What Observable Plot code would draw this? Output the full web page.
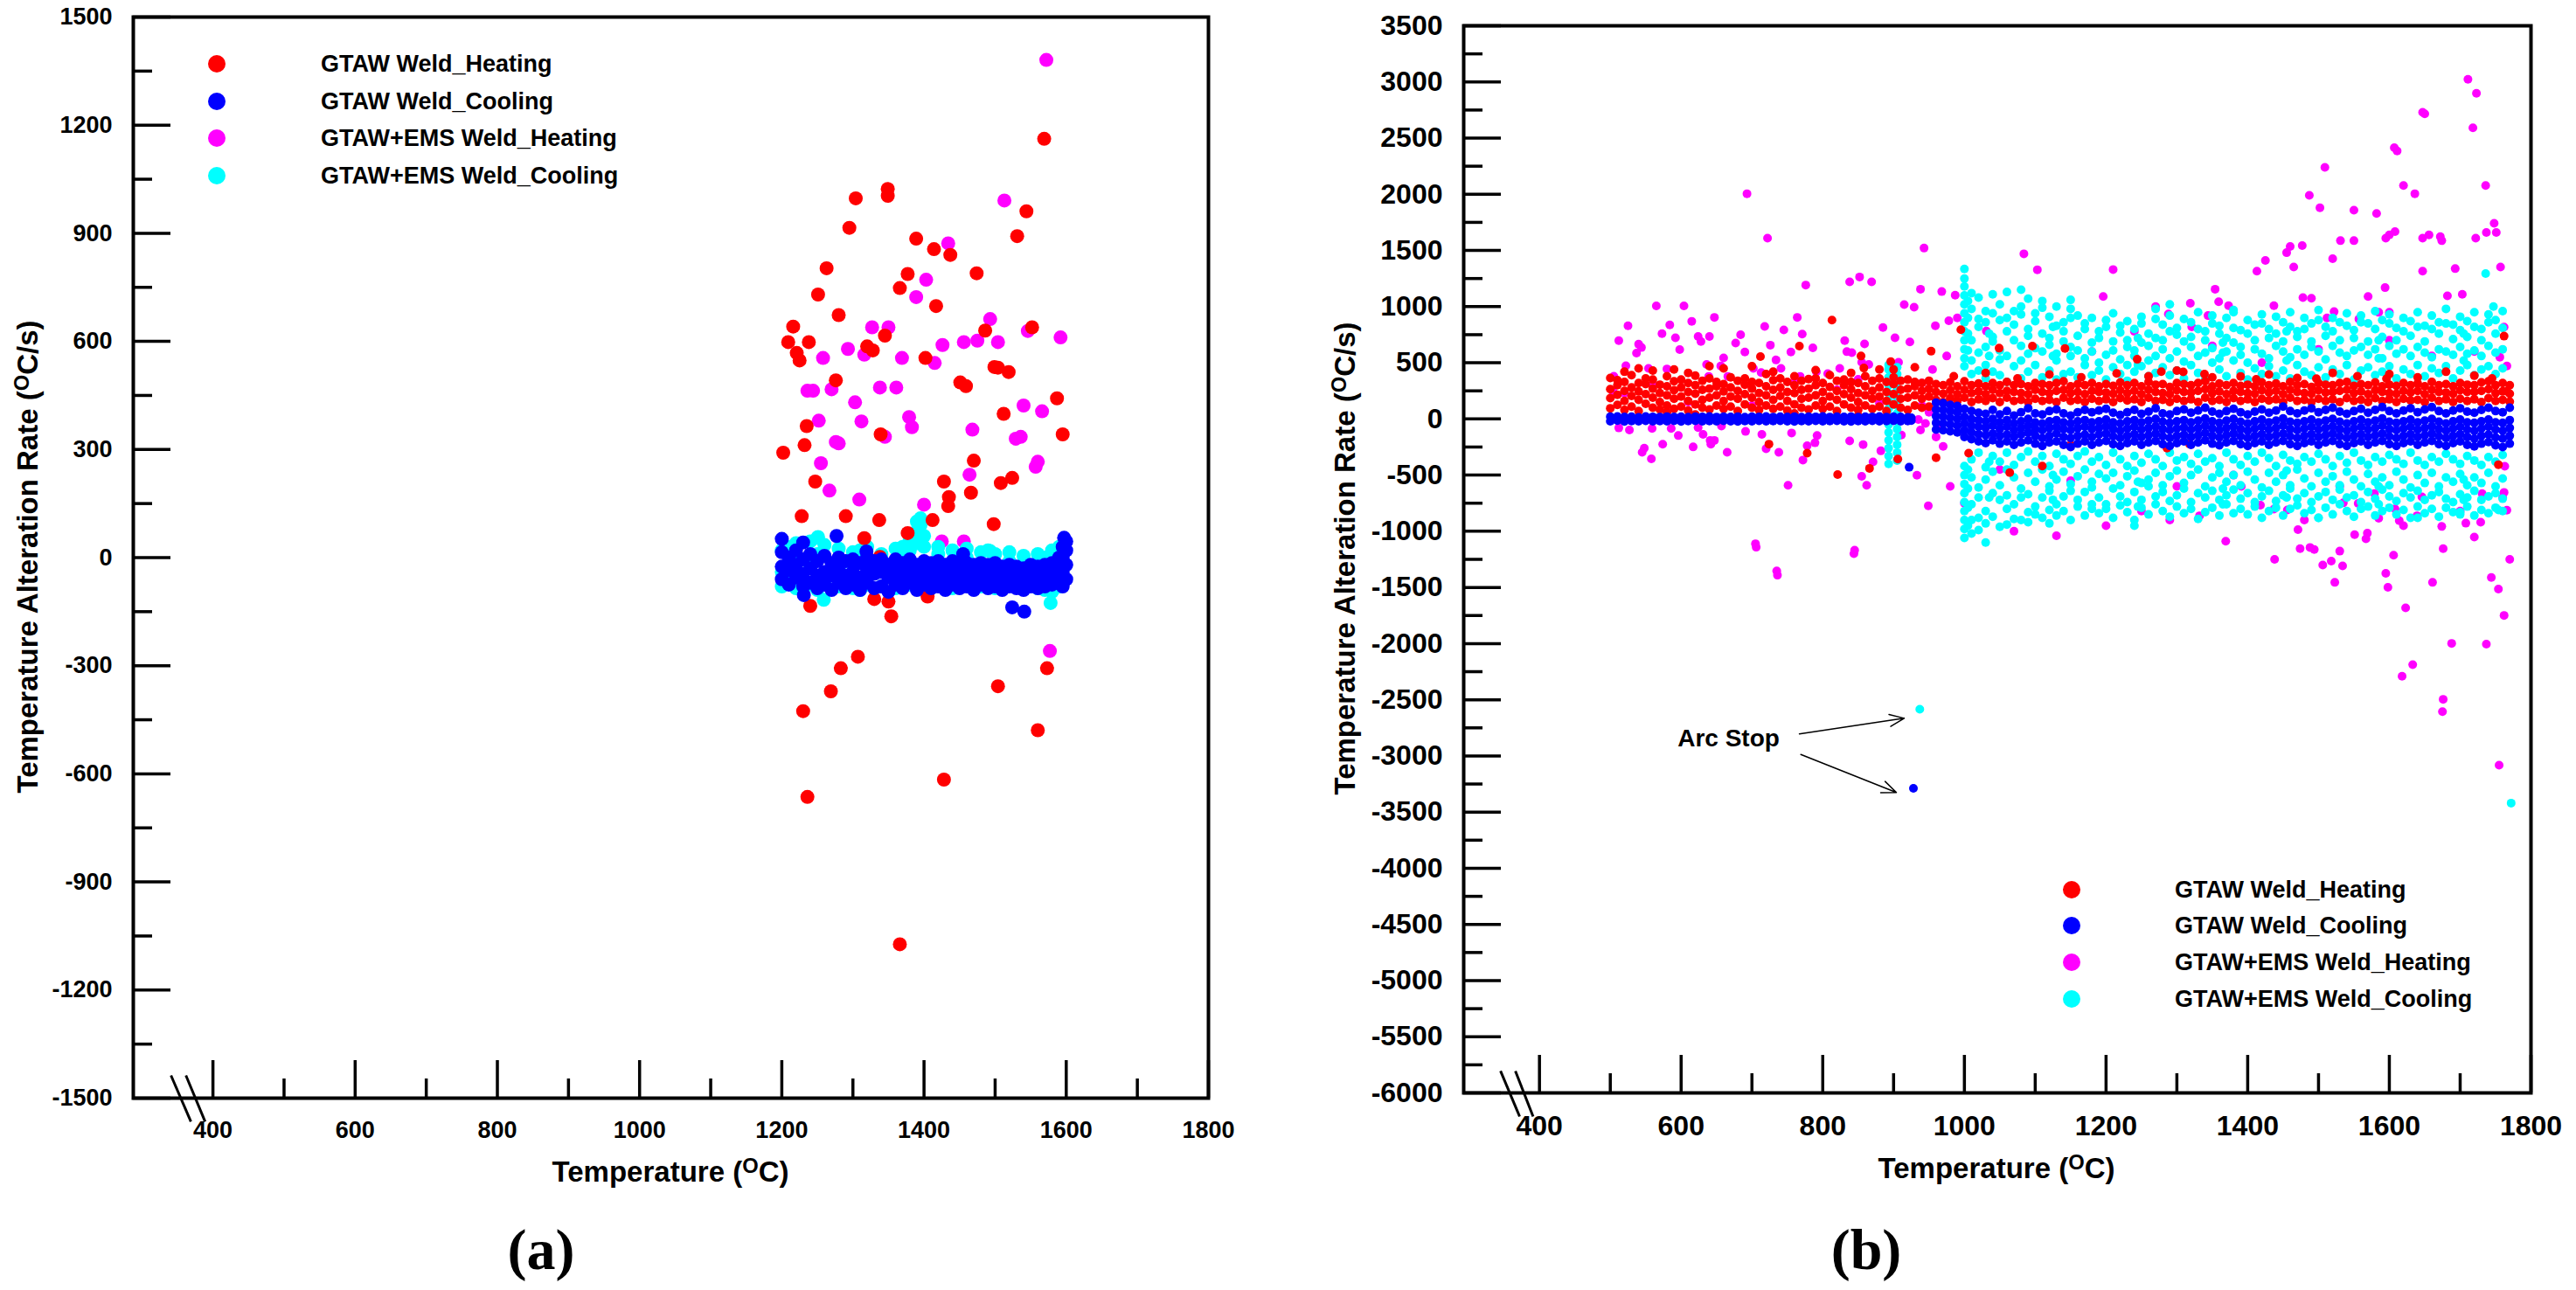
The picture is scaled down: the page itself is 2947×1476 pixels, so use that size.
<!DOCTYPE html>
<html><head><meta charset="utf-8">
<script src="https://cdn.jsdelivr.net/npm/d3@7"></script>
<script src="https://cdn.jsdelivr.net/npm/@observablehq/plot@0.6"></script>
<style>
html,body{margin:0;padding:0;background:#fff;}
#root{position:relative;width:2947px;height:1476px;background:#fff;font-family:"Liberation Sans",Arial,sans-serif;overflow:hidden}
.abs{position:absolute;white-space:nowrap;color:#000;font-weight:bold;line-height:1}
.ytitle{transform:translate(-50%,-50%) rotate(-90deg);font-size:33px}
.xtitle{transform:translate(-50%,-50%);font-size:33px}
.sup{font-size:0.72em;position:relative;top:-0.42em}
.plab{font-family:"Liberation Serif","Times New Roman",serif;font-size:66px;transform:translate(-50%,-50%)}
.leg{font-size:27px;transform:translateY(-50%)}
.key{position:absolute;width:20px;height:20px;border-radius:50%;transform:translate(-50%,-50%)}
</style></head>
<body><div id="root"></div>
<script>
// ---------- shared labels / ticks ----------
const seriesNames = ["GTAW Weld_Heating","GTAW Weld_Cooling","GTAW+EMS Weld_Heating","GTAW+EMS Weld_Cooling"];
const seriesColors = ["#ff0000","#0000ff","#ff00ff","#00ffff"];
const xMajorTicks = [400,600,800,1000,1200,1400,1600,1800];
const xMinorTicks = [500,700,900,1100,1300,1500,1700];
const yMajorA = [-1500,-1200,-900,-600,-300,0,300,600,900,1200,1500];
const yMinorA = [-1350,-1050,-750,-450,-150,150,450,750,1050,1350];
const yMajorB = [-6000,-5500,-5000,-4500,-4000,-3500,-3000,-2500,-2000,-1500,-1000,-500,0,500,1000,1500,2000,2500,3000,3500];
const yMinorB = [-5750,-5250,-4750,-4250,-3750,-3250,-2750,-2250,-1750,-1250,-750,-250,250,750,1250,1750,2250,2750,3250];
const xDomainA = [288,1800], yDomainA = [-1500,1500];
const xDomainB = [293,1800], yDomainB = [-6000,3500];
const breakA = [[341,369],[362,389]], breakAY = [-1437,-1565];
const breakB = [[345,372],[366,391]], breakBY = [-5805,-6210];

// ---------- panel (a) data ----------
const aHeating = [[1202,291],[1209,598],[1216,641],[1221,568],[1225,547],[1228,115],[1230,-426],[1232,312],[1235,365],[1236,-664],[1238,598],[1240,-134],[1247,211],[1251,730],[1263,803],[1269,-371],[1276,492],[1280,673],[1283,-307],[1290,115],[1295,915],[1304,997],[1307,-275],[1316,54],[1320,586],[1328,575],[1330,-115],[1337,104],[1338,2],[1339,342],[1345,616],[1349,1004],[1349,1023],[1350,-122],[1354,-163],[1366,748],[1366,-1073],[1377,787],[1377,68],[1389,885],[1402,554],[1405,-108],[1412,104],[1414,856],[1417,698],[1428,211],[1428,-616],[1434,143],[1435,168],[1437,840],[1451,486],[1459,476],[1466,180],[1470,269],[1474,789],[1486,630],[1498,93],[1499,529],[1504,527],[1504,-357],[1508,207],[1512,399],[1519,515],[1524,221],[1531,892],[1544,961],[1552,639],[1560,-479],[1569,1162],[1573,-307],[1587,442],[1595,342]];
const aEmsHeating = [[1572,1381],[1513,991],[1434,872],[1403,771],[1389,723],[1327,639],[1350,639],[1493,662],[1475,602],[1504,598],[1456,598],[1546,629],[1592,611],[1293,579],[1316,563],[1369,554],[1258,554],[1415,540],[1426,590],[1236,463],[1244,463],[1270,467],[1338,472],[1361,472],[1303,431],[1312,378],[1379,390],[1383,362],[1345,335],[1468,355],[1540,422],[1566,406],[1529,330],[1536,335],[1252,380],[1280,317],[1276,321],[1255,262],[1560,266],[1557,252],[1464,230],[1267,186],[1309,161],[1400,147],[1425,45],[1456,45],[1577,-259]];
const aCoolingCols = [[1200,-60,-25,15],[1210,-75,-35,0],[1220,-55,-20,20],[1230,-80,-45,-5],[1240,-70,-30,10],[1250,-85,-50,-10],[1260,-75,-40,5],[1270,-90,-50,-15],[1280,-70,-35,0],[1290,-85,-50,-10],[1300,-75,-40,-5],[1310,-90,-55,-15],[1320,-70,-35,0],[1330,-85,-45,-10],[1340,-80,-40,-5],[1350,-95,-55,-20],[1360,-75,-40,-5],[1370,-85,-50,-15],[1380,-70,-35,-5],[1390,-90,-55,-20],[1400,-75,-40,-10],[1410,-85,-50,-15],[1420,-80,-45,-10],[1430,-90,-55,-20],[1440,-75,-40,-10],[1450,-85,-50,-15],[1460,-80,-45,-15],[1470,-90,-55,-20],[1480,-75,-45,-15],[1490,-85,-50,-20],[1500,-80,-45,-15],[1510,-90,-55,-25],[1520,-80,-50,-20],[1530,-85,-55,-25],[1540,-90,-60,-30],[1550,-80,-50,-20],[1560,-85,-55,-25],[1570,-80,-50,-20],[1580,-75,-45,-15],[1590,-70,-35,0],[1595,-80,-40,0,30],[1600,-60,-20,20,45]];
const aCoolingOut = [[1200,52],[1230,42],[1231,-104],[1277,60],[1319,17],[1455,10],[1524,-138],[1541,-150],[1597,55]];
const aEmsCoolingCols = [[1200,-80,-40,20],[1210,-60,30],[1220,-85,0,40],[1240,-75,-20,45],[1250,-90,10,55],[1260,-70,35],[1280,-80,-30,25],[1300,-85,-20,15],[1310,-90,20],[1320,-75,-10,30],[1340,-80,-30,10],[1360,-85,-20,25],[1370,0,30],[1380,-75,20,50],[1390,40,75,100],[1395,60,90],[1400,-80,30,60],[1420,-70,10,30],[1440,-85,-20,20],[1460,-75,0,25],[1480,-80,-30,15],[1490,20],[1500,-85,-20,10],[1520,-75,-10,15],[1540,-80,-30,5],[1560,-85,-20,10],[1570,-90,0],[1580,-95,-40,20],[1590,-80,0,30]];
const aEmsCoolingOut = [[1259,-117],[1578,-126],[1395,109],[1493,18],[1251,57]];

// ---------- panel (b) data ----------
const bHeatingCols = [[500,95,185,265,365],[510,125,215,300,345],[520,80,160,250,330],[530,110,205,280,390],[540,70,170,245,320],[550,135,220,310,360],[560,100,190,270,350],[570,85,150,230,305],[580,120,210,290,380],[590,90,180,255,335],[600,110,200,280,350],[610,75,160,240,320],[620,130,225,300,385],[630,100,170,260,340],[640,85,190,270,360],[650,120,210,290,330],[660,90,160,245,310],[670,110,200,280,370],[680,70,180,250,340],[690,130,220,305,360],[700,100,190,270,330],[710,80,150,230,320],[720,120,210,290,400],[730,90,170,260,345],[740,110,205,280,360],[750,75,160,240,330],[760,130,230,300,380],[770,100,180,260,340],[780,85,190,270,355],[790,120,210,300,360],[800,90,160,240,320],[810,110,200,285,390],[820,70,170,250,340],[830,130,220,300,350],[840,100,190,265,330],[850,80,150,230,320],[860,120,210,290,380],[870,90,180,250,340],[880,110,200,280,360],[890,70,160,240,330],[900,130,220,310,370],[910,100,180,260,340],[920,80,190,270,350],[930,120,210,290,330],[940,100,180,250,320],[950,110,200,270,340],
[960,170,240,310],[970,150,225,300],[980,185,255,325],[990,160,220,290],[1000,190,260,335],[1010,150,230,300],[1020,175,245,315],[1030,160,220,290],[1040,185,260,320],[1050,150,230,300],[1060,190,250,330],[1070,160,240,300],[1080,170,230,310],[1090,150,220,290],[1100,180,260,320],[1110,160,240,310],[1120,170,230,300],[1130,150,250,320],[1140,190,260,335],[1150,160,230,290],[1160,170,240,310],[1170,150,220,300],[1180,180,250,320],[1190,160,240,290],[1200,175,235,310],[1210,150,225,295],[1220,185,255,325],[1230,165,230,300],[1240,175,250,320],[1250,150,220,290],[1260,190,260,330],[1270,160,240,305],[1280,170,230,310],[1290,150,220,285],[1300,180,255,320],[1310,160,240,310],[1320,175,235,300],[1330,150,250,320],[1340,190,265,335],[1350,160,230,290],[1360,170,245,315],[1370,150,220,300],[1380,185,250,320],[1390,160,240,295],[1400,175,230,305],[1410,150,225,290],[1420,180,255,325],[1430,165,235,300],[1440,175,250,315],[1450,150,220,290],[1460,190,260,330],[1470,160,240,300],[1480,170,230,310],[1490,150,225,285],[1500,180,255,320],[1510,160,235,305],[1520,175,240,300],[1530,150,250,320],[1540,185,260,330],[1550,160,230,295],[1560,170,245,310],[1570,150,220,300],[1580,185,255,325],[1590,160,240,290],[1600,175,230,305],[1610,150,225,295],[1620,180,250,320],[1630,165,235,300],[1640,170,250,315],[1650,150,220,290],[1660,190,260,330],[1670,160,240,300],[1680,175,235,310],[1690,150,225,290],[1700,180,255,320],[1710,160,240,305],[1720,175,240,300],[1730,150,250,325],[1740,185,265,335],[1750,160,230,300],[1760,170,245,320],[1770,155,225,300]];
const bHeatingOut = [[813,880],[712,555],[724,-224],[778,-305],[821,-495],[866,-440],[854,560],[906,-357],[995,795],[1006,-305],[1064,-478],[1110,-420],[1150,-231],[1142,627],[1049,630],[1096,649],[1244,531],[1286,-260],[1318,-224],[1278,421],[1339,399],[1754,-407],[1762,737],[953,603],[767,649],[896,511],[960,-345],[858,453],[1309,419],[1390,379],[1412,353],[1497,358],[1596,358],[1766,247],[640,470],[590,440],[540,450],[700,470],[880,440],[930,460],
[985,380],[1030,410],[1075,360],[1120,395],[1165,370],[1215,405],[1260,380],[1300,430],[1350,370],[1430,395],[1470,365],[1520,410],[1555,380],[1600,400],[1640,370],[1680,420],[1720,385],[1745,360],[520,420],[560,430],[610,410],[660,450],[730,420],[790,435],[840,410],[900,440],[620,40],[760,50],[850,30],[580,60]];
const bCoolingLine = [[500,-20,20],[510,-15,22],[520,-22,18],[530,-18,20],[540,-20,15],[550,-16,22],[560,-21,19],[570,-18,17],[580,-20,21],[590,-17,18],[600,-22,20],[610,-19,16],[620,-16,21],[630,-20,19],[640,-18,22],[650,-21,17],[660,-17,20],[670,-20,18],[680,-22,21],[690,-18,16],[700,-20,20],[710,-16,19],[720,-21,22],[730,-19,17],[740,-17,20],[750,-20,18],[760,-22,21],[770,-18,16],[780,-20,20],[790,-16,19],[800,-21,22],[810,-19,17],[820,-17,20],[830,-20,18],[840,-22,21],[850,-18,16],[860,-20,20],[870,-16,19],[880,-21,22],[890,-19,17],[900,-17,20],[910,-20,18],[920,-18,15],[925,-15,10]];
const bCoolingBand = [[960,-95,-35,25,85,145],[970,-100,-40,20,80,140],[980,-110,-50,10,70,125],[990,-120,-60,0,60,115],[1000,-160,-100,-40,20,90],[1010,-180,-120,-60,0,70],[1020,-200,-135,-70,-10,55],[1030,-215,-145,-80,-20,45],[1040,-190,-130,-60,0,80],[1050,-220,-150,-90,-30,40],[1060,-200,-140,-70,-10,70],[1070,-230,-160,-100,-40,30],[1080,-210,-140,-80,-20,60],[1090,-190,-120,-60,0,95],[1100,-220,-150,-90,-30,50],[1110,-240,-170,-100,-40,40],[1120,-210,-150,-80,-20,70],[1130,-200,-130,-70,-10,85],[1140,-230,-160,-90,-30,50],[1150,-250,-170,-100,-40,30],[1160,-220,-150,-80,-20,60],[1170,-200,-140,-70,-10,80],[1180,-230,-160,-90,-30,60],[1190,-210,-140,-80,-20,75],[1200,-195,-130,-65,-5,90],[1210,-225,-155,-90,-30,55],[1220,-240,-170,-105,-40,35],[1230,-215,-150,-85,-20,60],[1240,-200,-135,-70,-10,80],[1250,-230,-160,-95,-30,45],[1260,-210,-145,-80,-15,65],[1270,-195,-130,-65,0,95],[1280,-225,-155,-90,-25,50],[1290,-240,-170,-100,-35,40],[1300,-215,-150,-85,-20,70],[1310,-200,-140,-75,-10,85],[1320,-230,-160,-95,-30,55],[1330,-210,-145,-80,-15,75],[1340,-190,-125,-60,5,100],[1350,-220,-150,-85,-20,65],[1360,-235,-165,-100,-35,45],[1370,-210,-145,-80,-15,70],[1380,-195,-130,-65,0,90],[1390,-225,-155,-90,-25,60],[1400,-240,-170,-105,-40,40],[1410,-215,-150,-85,-20,65],[1420,-200,-135,-70,-5,85],[1430,-230,-160,-95,-30,55],[1440,-210,-145,-80,-15,75],[1450,-195,-130,-60,5,110],[1460,-225,-155,-90,-25,70],[1470,-240,-170,-100,-35,50],[1480,-215,-150,-85,-20,75],[1490,-200,-135,-70,-5,95],[1500,-230,-160,-95,-30,60],[1510,-210,-145,-80,-15,80],[1520,-195,-130,-65,0,100],[1530,-225,-155,-90,-25,65],[1540,-240,-170,-105,-40,45],[1550,-215,-150,-85,-20,70],[1560,-200,-135,-70,-5,90],[1570,-230,-160,-95,-30,55],[1580,-210,-145,-80,-15,80],[1590,-195,-130,-60,5,105],[1600,-225,-155,-90,-25,70],[1610,-240,-170,-100,-35,50],[1620,-215,-150,-85,-20,75],[1630,-200,-135,-70,-5,95],[1640,-230,-160,-95,-30,60],[1650,-210,-145,-80,-15,85],[1660,-195,-130,-65,0,105],[1670,-225,-155,-90,-25,70],[1680,-240,-170,-105,-40,50],[1690,-215,-150,-85,-20,75],[1700,-200,-135,-70,-5,95],[1710,-230,-160,-95,-30,65],[1720,-245,-175,-105,-35,55],[1730,-220,-150,-85,-20,80],[1740,-205,-140,-70,-5,100],[1750,-235,-165,-95,-30,70],[1760,-250,-175,-105,-35,60],[1770,-220,-150,-80,-10,100]];
const bCoolingOut = [[922,-430],[928,-3288]];
const bEmsCoolingCols = [[893,-400,-330,-260,-190,-120,-50,20,90,160,230,300,370,440,480],[905,-370,-300,-230,-160,-90,-20,50,120,190,260,330,400,460],
[1000,1335,1250,1180,1100,1020,940,860,780,700,620,540,470,-420,-500,-580,-660,-740,-820,-900,-980,-1060],[1005,1050,900,760,610,-450,-620,-790,-950],[1010,1120,980,700,520,400,-360,-520,-760,-900,-1020],[1020,1080,890,820,590,430,-300,-610,-700,-880,-990],[1030,960,860,640,480,360,-430,-540,-820,-930,-1100],[1035,760,560,-380,-700],[1040,1110,940,730,690,420,-330,-470,-660,-870],[1050,1020,880,610,530,390,-380,-590,-720,-960],[1060,1130,900,780,560,330,-300,-450,-680,-800,-940],[1070,960,840,700,470,-410,-520,-760,-890],[1080,1000,930,650,520,360,-340,-620,-700,-900],[1090,1070,800,740,580,420,-290,-480,-670,-830,-920],[1100,940,870,630,480,-380,-560,-780,-850],[1110,1050,990,760,600,370,-330,-450,-700,-880],[1120,910,720,660,430,-420,-600,-640,-810,-930],[1125,820,560,-500,-720],[1130,1000,830,580,520,350,-310,-540,-760,-860],[1140,860,780,690,400,-360,-470,-690,-820],[1150,980,900,640,560,420,-400,-580,-640,-900],[1160,920,740,610,370,-330,-510,-720,-780],[1170,850,800,540,480,-290,-450,-650,-860],[1180,900,680,600,390,-380,-560,-610,-800,-760],[1190,780,720,500,430,-340,-490,-700,-840],[1200,880,820,570,350,-410,-530,-760,-800],[1210,940,690,610,460,-300,-480,-620,-880],[1220,830,770,530,400,-360,-590,-690,-770],[1230,870,700,640,480,340,-420,-510,-740,-830],[1240,800,610,560,420,-330,-460,-650,-900],[1245,720,480,-560,-780],[1250,910,850,680,470,-390,-570,-720,-790],[1260,760,650,520,380,-310,-540,-600,-850],[1270,980,890,720,560,410,-360,-480,-690,-760],[1280,840,700,620,460,-420,-590,-650,-820],[1290,920,780,540,390,-300,-510,-730,-870],[1300,810,750,600,430,-370,-460,-680,-780],[1310,890,690,510,360,-340,-570,-620,-840],[1320,860,730,640,480,-400,-500,-740,-800],[1330,950,800,560,410,-310,-450,-660,-890],[1340,780,700,590,350,-380,-600,-700,-830],[1350,920,850,630,500,-350,-520,-640,-790],[1360,830,760,540,440,-420,-480,-720,-860],[1365,680,590,-620,-760],[1370,900,720,600,380,-300,-560,-680,-760],[1380,970,810,680,520,-360,-500,-630,-840],[1390,790,640,570,410,-410,-590,-710,-800],[1400,880,760,500,350,-330,-470,-660,-850],[1410,840,700,620,450,-380,-540,-740,-780],[1420,930,850,580,400,-300,-610,-690,-880],[1430,800,720,540,470,-350,-480,-640,-820],[1440,910,760,650,380,-420,-560,-730,-790],[1450,860,690,600,430,-320,-500,-680,-860],[1455,780,520,-460,-700],[1460,950,820,550,360,-370,-590,-620,-800],[1470,780,730,620,480,-400,-450,-710,-770],[1480,900,800,570,420,-340,-530,-660,-840],[1490,850,690,640,390,-380,-600,-740,-810],[1500,970,880,600,460,-310,-480,-690,-880],[1510,820,740,530,370,-360,-560,-650,-790],[1520,900,780,650,440,-420,-510,-720,-850],[1530,860,700,590,400,-330,-590,-630,-760],[1540,940,830,560,480,-390,-470,-700,-820],[1550,790,720,610,350,-300,-540,-680,-870],[1560,920,860,640,430,-370,-600,-740,-800],[1570,850,690,570,460,-410,-490,-650,-780],[1580,960,800,620,390,-340,-560,-710,-860],[1585,700,540,-600,-760],[1590,880,730,540,420,-380,-520,-630,-820],[1600,930,850,650,470,-320,-590,-690,-790],[1610,810,700,580,360,-360,-470,-730,-850],[1620,900,780,620,440,-400,-540,-660,-810],[1630,870,740,560,400,-300,-610,-700,-880],[1640,950,820,640,480,-370,-500,-640,-780],[1650,830,690,590,380,-410,-570,-720,-840],[1660,920,800,550,450,-340,-480,-680,-800],[1670,860,760,620,410,-380,-600,-650,-870],[1680,980,850,600,470,-310,-520,-710,-790],[1690,840,710,570,360,-360,-560,-740,-830],[1700,910,790,640,430,-400,-490,-670,-850],[1705,760,520,-540,-720],[1710,870,730,580,480,-330,-590,-700,-780],[1720,950,820,610,390,-370,-520,-640,-860],[1730,800,700,560,440,-410,-570,-720,-810],[1740,930,860,650,470,-340,-480,-690,-840],[1750,880,760,590,400,-380,-600,-660,-790],[1760,960,810,620,450,-320,-530,-710,-820]];
const bEmsCoolingOut = [[937,-2584],[1736,1294],[1747,1000],[1754,-810],[1772,-3420],[1080,1150],[1150,1060],[1290,1020],[1380,950],[1240,-950],[1500,-880],[1640,-880],[1700,-830]];
const bEmsHeating = [[693,2005],[722,1609],[943,1521],[852,1264],[838,1220],[869,1220],[776,1192],[938,1155],[968,1134],[987,1102],[1084,1470],[1103,1328],[1210,1330],[1196,1090],[1354,1155],[1413,1316],[1425,1411],[1455,1480],[1460,1536],[1477,1543],[1465,1352],[1478,1080],[1487,1990],[1502,1880],[1509,2239],[1520,1426],[1531,1587],[1550,1587],[1550,1858],[1582,1829],[1595,1609],[1600,1638],[1607,2415],[1611,2386],[1620,2078],[1636,2005],[1608,1667],[1647,1609],[1647,1316],[1656,1638],[1672,1623],[1674,1587],[1693,1338],[1682,1096],[1703,1110],[1711,3024],[1723,2899],[1718,2591],[1722,1609],[1736,2078],[1737,1660],[1748,1741],[1751,1660],[1757,1352],[1647,2730],[1650,2716],[1594,1169],[1570,1090],[1344,920],[1359,1044],[1373,1008],[1319,1030],[1288,935],[1321,820],[1490,1074],[1600,949],[1585,949],[1557,890],[1522,955],[1512,900],[1437,1008],[1762,817],[1766,472],
[705,-1111],[735,-1353],[845,-1169],[1369,-1089],[1332,-862],[1471,-986],[1474,-1155],[1488,-1144],[1438,-1250],[1494,-1162],[1506,-1301],[1518,-1265],[1523,-1455],[1534,-1309],[1530,-1177],[1567,-1067],[1569,-1016],[1595,-1375],[1598,-1499],[1618,-2291],[1633,-2188],[1623,-1682],[1606,-1213],[1661,-1455],[1676,-2496],[1675,-2606],[1688,-1998],[1676,-1155],[1720,-1052],[1737,-2005],[1744,-1411],[1754,-1514],[1762,-1749],[1770,-1250],[1755,-3083],[1418,-767],[1437,-803],[1456,-811],[1556,-752],[1579,-664],[1585,-884],[1639,-862],[1614,-906],[1674,-957],[1708,-928],[1729,-919],[1731,-664],[1763,-422],[1762,-654],[1766,-813],[1646,-693],[1551,-1030],[1608,-800],[1535,-747],[1391,-601],
[565,1007],[604,1007],[915,1018],[929,994],[647,904],[764,904],[525,829],[584,837],[615,869],[718,824],[745,792],[771,755],[885,814],[959,829],[978,874],[573,760],[592,723],[624,734],[640,734],[628,689],[512,697],[540,665],[544,636],[598,617],[537,586],[684,750],[677,676],[726,657],[786,633],[831,697],[859,668],[902,723],[923,686],[690,596],[755,596],[834,599],[841,590],[636,485],[660,543],[522,474],[554,450],[580,445],[656,472],[734,525],[741,450],[702,450],[713,413],[791,419],[807,403],[824,450],[865,485],[855,504],[907,504],[666,379],[639,379],[768,379],[850,352],[504,241],
[657,-64],[691,-111],[714,-138],[512,-80],[527,-98],[559,-85],[586,-85],[596,-148],[624,-77],[631,-138],[641,-191],[647,-191],[756,-125],[792,-148],[938,-98],[548,-260],[545,-297],[558,-355],[574,-225],[617,-249],[642,-225],[665,-297],[720,-265],[738,-297],[778,-239],[789,-212],[772,-366],[838,-196],[857,-228],[882,-284],[871,-382],[855,-511],[862,-591],[751,-591],[933,-501],[949,-774],[970,-244],[911,-143],[706,-1142],[844,-1200],[736,-1391],
[505,380],[520,230],[560,300],[610,150],[700,120],[760,330],[820,260],[880,140],[940,320],[940,120],[935,-5],[945,-40],[950,60],[963,-80],[955,440],[960,-160],
[975,560],[990,900],[1031,782],[1240,780],[1180,600],[1350,650],[1420,500],[1500,620],[1600,700],[1660,560],[1720,600],[1756,550],[980,-600],[1000,-750],[1200,-950],[1290,-900],[1250,-820],[1480,-900],[1620,-950],[1700,-820],[1760,-700],[1530,-600],[1380,-500],[1300,-600],[1150,-550],[1050,-450],[1070,-1000],[1130,-1040],[1270,1000]];
const arcLabel = [{x:667, y:-2848, text:"Arc Stop"}];
const arcArrows = [{x1:767, y1:-2804, x2:915, y2:-2665},{x1:769, y1:-2987, x2:904, y2:-3325}];

// ---------- helpers ----------
const cols = rows => rows.flatMap(([x, ...ys]) => ys.map(y => [x, y]));

function panel(o) {
  const marks = [];
  o.series.forEach(s => marks.push(Plot.dot(s.data, {x: d => d[0], y: d => d[1], r: o.r, fill: s.color})));
  marks.push(Plot.frame({stroke: "#000", strokeWidth: 4}));
  marks.push(Plot.axisY(o.yMinor, {tickSize: -22, fill: "none", strokeWidth: 3.5, label: null}));
  marks.push(Plot.axisY(o.yMajor, {tickSize: -43, fill: "none", strokeWidth: 3.5, label: null}));
  marks.push(Plot.axisY(o.yMajor, {tickSize: 0, tickPadding: 24, fontSize: o.fs, fontWeight: "bold", tickFormat: d => String(d), label: null}));
  marks.push(Plot.axisX(xMinorTicks, {tickSize: -22, fill: "none", strokeWidth: 3.5, label: null}));
  marks.push(Plot.axisX(xMajorTicks, {tickSize: -43, fill: "none", strokeWidth: 3.5, label: null}));
  marks.push(Plot.axisX(xMajorTicks, {tickSize: 0, tickPadding: 26, fontSize: o.fs, fontWeight: "bold", tickFormat: d => String(d), label: null}));
  marks.push(Plot.link(o.breaks, {x1: d => d[0], x2: d => d[1], y1: o.breakY[0], y2: o.breakY[1], stroke: "#000", strokeWidth: 3}));
  if (o.extra) marks.push(...o.extra);
  return Plot.plot({
    width: o.width, height: 1476,
    marginLeft: o.ml, marginRight: o.mr, marginTop: o.mt, marginBottom: 1476 - o.fb,
    x: {domain: o.xDomain}, y: {domain: o.yDomain},
    style: {fontFamily: '"Liberation Sans", Arial, sans-serif', background: "transparent", color: "#000", overflow: "visible"},
    marks
  });
}

const chartA = panel({
  width: 1474, ml: 152, mr: 92, mt: 19, fb: 1256, r: 8, fs: 27,
  xDomain: xDomainA, yDomain: yDomainA, yMajor: yMajorA, yMinor: yMinorA,
  breaks: breakA, breakY: breakAY,
  series: [
    {data: aEmsHeating, color: seriesColors[2]},
    {data: [...cols(aEmsCoolingCols), ...aEmsCoolingOut], color: seriesColors[3]},
    {data: aHeating, color: seriesColors[0]},
    {data: [...cols(aCoolingCols), ...aCoolingOut], color: seriesColors[1]}
  ]
});
const chartB = panel({
  width: 1473, ml: 200, mr: 52, mt: 29, fb: 1250, r: 5, fs: 32,
  xDomain: xDomainB, yDomain: yDomainB, yMajor: yMajorB, yMinor: yMinorB,
  breaks: breakB, breakY: breakBY,
  series: [
    {data: bEmsHeating, color: seriesColors[2]},
    {data: [...cols(bEmsCoolingCols), ...bEmsCoolingOut], color: seriesColors[3]},
    {data: [...cols(bHeatingCols), ...bHeatingOut], color: seriesColors[0]},
    {data: [...cols(bCoolingLine), ...cols(bCoolingBand), ...bCoolingOut], color: seriesColors[1]}
  ],
  extra: [
    Plot.arrow(arcArrows, {x1: "x1", y1: "y1", x2: "x2", y2: "y2", stroke: "#000", strokeWidth: 1.5, headLength: 18, headAngle: 45}),
    Plot.text(arcLabel, {x: "x", y: "y", text: "text", fontSize: 28, fontWeight: "bold", fill: "#000"})
  ]
});

const root = document.getElementById("root");
function place(node, left) {
  const d = document.createElement("div");
  d.style.cssText = `position:absolute;left:${left}px;top:0`;
  d.appendChild(node); root.appendChild(d);
}
place(chartA, 0);
place(chartB, 1474);

function addDiv(cls, html, left, top) {
  const d = document.createElement("div");
  d.className = "abs " + cls;
  d.style.left = left + "px"; d.style.top = top + "px";
  d.innerHTML = html; root.appendChild(d); return d;
}
const yTitle = 'Temperature Alteration Rate (<span class="sup">O</span>C/s)';
const xTitle = 'Temperature (<span class="sup">O</span>C)';
addDiv("ytitle", yTitle, 31, 637);
addDiv("ytitle", yTitle, 1538, 639);
addDiv("xtitle", xTitle, 767, 1340);
addDiv("xtitle", xTitle, 2284, 1336);
addDiv("plab", "(a)", 619, 1430);
addDiv("plab", "(b)", 2135, 1430);

function legend(keyX, textX, ys) {
  seriesNames.forEach((name, i) => {
    const k = document.createElement("div");
    k.className = "key";
    k.style.left = keyX + "px"; k.style.top = ys[i] + "px"; k.style.background = seriesColors[i];
    root.appendChild(k);
    addDiv("leg", name, textX, ys[i]);
  });
}
legend(248, 367, [73, 116, 158, 201]);
legend(2370, 2488, [1018, 1059, 1101, 1143]);
</script></body></html>
